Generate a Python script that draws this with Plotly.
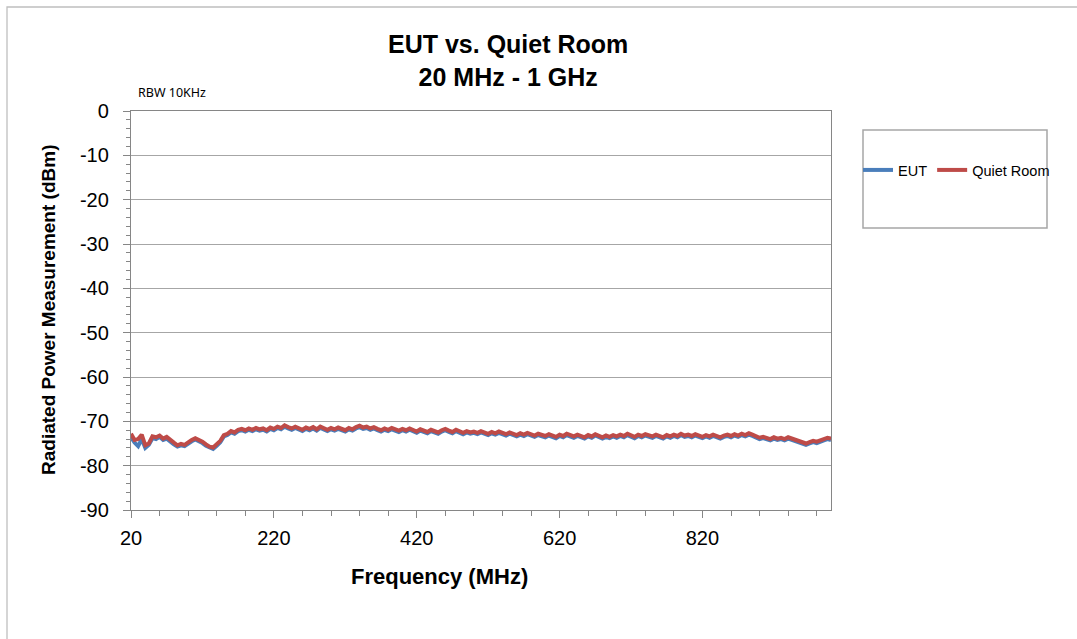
import plotly.graph_objects as go

# Frequency grid (MHz), 5 MHz steps from 20 MHz to 1 GHz
freq_mhz = list(range(20, 1001, 5))

# Quiet Room trace (dBm)
quiet_room = [
    -72.8, -74.2, -74.0, -73.0, -75.4, -75.0, -73.4,
    -73.6, -73.2, -73.9, -73.5, -74.3, -74.8, -75.4, -75.1, -75.3, -74.6,
    -74.2, -73.8, -74.1, -74.6, -75.2, -75.7, -75.9, -75.2, -74.4, -73.1,
    -72.8, -72.2, -72.5, -71.9, -71.7, -72.0, -71.6, -71.9, -71.5, -71.8,
    -71.6, -72.0, -71.4, -71.7, -71.2, -71.5, -70.9, -71.3, -71.6, -71.2,
    -71.6, -71.9, -71.4, -71.7, -71.3, -71.8, -71.2, -71.6, -71.9, -71.5,
    -71.8, -71.4, -71.7, -72.0, -71.5, -71.8, -71.3, -71.0, -71.4, -71.2,
    -71.6, -71.3, -71.7, -72.0, -71.6, -71.9, -71.5, -71.8, -72.1, -71.7,
    -72.0, -71.6, -71.9, -72.3, -71.8, -72.1, -72.4, -71.9, -72.2, -72.5,
    -72.0, -71.7, -72.1, -72.4, -71.9, -72.3, -72.6, -72.2, -72.5, -72.3,
    -72.6, -72.2, -72.5, -72.8, -72.4, -72.7, -72.3, -72.6, -72.9, -72.5,
    -72.8, -73.1, -72.7, -73.0, -72.6, -72.9, -73.2, -72.8, -73.1, -73.3,
    -72.9, -73.2, -73.5, -73.0, -73.3, -72.8, -73.2, -73.4, -73.0, -73.3,
    -73.6, -73.1, -73.4, -72.9, -73.3, -73.6, -73.2, -73.5, -73.1, -73.4,
    -73.0, -73.3, -72.8, -73.2, -73.5, -73.0, -73.3, -72.9, -73.2, -73.4,
    -73.0, -73.3, -73.6, -73.1, -73.4, -73.0, -73.3, -72.8, -73.2, -73.0,
    -73.3, -72.9, -73.2, -73.5, -73.1, -73.4, -73.0, -73.3, -73.6, -73.2,
    -73.0, -73.3, -72.9, -73.2, -72.8, -73.1, -72.7, -73.0, -73.4, -73.7,
    -73.5, -73.8, -74.0, -73.6, -73.9, -73.7, -74.0, -73.6, -73.9, -74.1,
    -74.3, -74.6, -75.0, -74.7, -74.4, -74.6, -74.2, -74.0, -73.7, -73.9,
]

# EUT trace (dBm)
eut = [
    -73.5, -74.8, -75.6, -74.0, -76.0, -75.3, -73.8,
    -74.0, -73.5, -74.2, -73.9, -74.6, -75.2, -75.7, -75.4, -75.6, -74.9,
    -74.5, -74.1, -74.4, -74.9, -75.5, -75.9, -76.2, -75.5, -74.7, -73.4,
    -73.1, -72.5, -72.8, -72.2, -72.0, -72.3, -71.9, -72.2, -71.8, -72.1,
    -71.9, -72.3, -71.7, -72.0, -71.5, -71.8, -71.2, -71.6, -71.9, -71.5,
    -71.9, -72.2, -71.7, -72.0, -71.6, -72.1, -71.5, -71.9, -72.2, -71.8,
    -72.1, -71.7, -72.0, -72.3, -71.8, -72.1, -71.6, -71.3, -71.7, -71.5,
    -71.9, -71.6, -72.0, -72.3, -71.9, -72.2, -71.8, -72.1, -72.4, -72.0,
    -72.3, -71.9, -72.2, -72.6, -72.1, -72.4, -72.7, -72.2, -72.5, -72.8,
    -72.3, -72.0, -72.4, -72.7, -72.2, -72.6, -72.9, -72.5, -72.8, -72.6,
    -72.9, -72.5, -72.8, -73.1, -72.7, -73.0, -72.6, -72.9, -73.2, -72.8,
    -73.1, -73.4, -73.0, -73.3, -72.9, -73.2, -73.5, -73.1, -73.4, -73.6,
    -73.2, -73.5, -73.8, -73.3, -73.6, -73.1, -73.5, -73.7, -73.3, -73.6,
    -73.9, -73.4, -73.7, -73.2, -73.6, -73.9, -73.5, -73.8, -73.4, -73.7,
    -73.3, -73.6, -73.1, -73.5, -73.8, -73.3, -73.6, -73.2, -73.5, -73.7,
    -73.3, -73.6, -73.9, -73.4, -73.7, -73.3, -73.6, -73.1, -73.5, -73.3,
    -73.6, -73.2, -73.5, -73.8, -73.4, -73.7, -73.3, -73.6, -73.9, -73.5,
    -73.3, -73.6, -73.2, -73.5, -73.1, -73.4, -73.0, -73.3, -73.7, -74.0,
    -73.8, -74.1, -74.3, -73.9, -74.2, -74.0, -74.3, -73.9, -74.2, -74.4,
    -74.6, -74.9, -75.3, -75.0, -74.7, -74.9, -74.5, -74.3, -74.0, -74.2,
]

series_names = ["EUT", "Quiet Room"]
series_colors = ["#4a7ebb", "#be4b48"]

# Axis tick values and labels (hyphen-minus as in the reference)
y_tick_values = [0, -10, -20, -30, -40, -50, -60, -70, -80, -90]
y_tick_labels = ["0", "-10", "-20", "-30", "-40", "-50", "-60", "-70", "-80", "-90"]
x_tick_values = [20, 220, 420, 620, 820]
x_tick_labels = ["20", "220", "420", "620", "820"]

W, H = 1077, 639
L, R, T, B = 131, 246, 111, 129
PW, PH = W - L - R, H - T - B


def px(x):
    return (x - L) / PW


def py(y):
    return (H - B - y) / PH


FONT = "Liberation Sans, Arial, sans-serif"
AXIS_GRAY = "#868686"
GRID_GRAY = "#a6a6a6"

fig = go.Figure()
for name, vals, col in zip(series_names, [eut, quiet_room], series_colors):
    fig.add_trace(go.Scatter(x=freq_mhz, y=vals, mode="lines", name=name,
                             line=dict(color=col, width=4)))

fig.update_layout(
    width=W, height=H,
    margin=dict(l=L, r=R, t=T, b=B, pad=0, autoexpand=False),
    paper_bgcolor="white", plot_bgcolor="white",
    font=dict(family=FONT, color="black"),
    showlegend=True,
    legend=dict(orientation="h", x=px(858), xanchor="left", y=py(170), yanchor="middle",
                font=dict(size=14.5, family=FONT, color="black"),
                bgcolor="rgba(0,0,0,0)", borderwidth=0, itemwidth=30,
                tracegroupgap=0),
    xaxis=dict(range=[20, 1000], tickmode="array", tickvals=x_tick_values, ticktext=x_tick_labels,
               showgrid=False, zeroline=False,
               showline=True, linecolor=AXIS_GRAY, linewidth=1.3, mirror=True,
               ticks="outside", ticklen=7, tickcolor=AXIS_GRAY, tickwidth=1.3,
               tickfont=dict(size=20, family=FONT), ticklabelstandoff=3,
               minor=dict(tick0=20, dtick=40, ticks="outside", ticklen=5,
                          tickcolor=AXIS_GRAY, tickwidth=1.3, showgrid=False)),
    yaxis=dict(range=[-90, 0], tickmode="array", tickvals=y_tick_values, ticktext=y_tick_labels,
               showgrid=True, gridcolor=GRID_GRAY, gridwidth=1.3, zeroline=False,
               showline=True, linecolor=AXIS_GRAY, linewidth=1.3, mirror=True,
               ticks="outside", ticklen=7, tickcolor=AXIS_GRAY, tickwidth=1.3,
               tickfont=dict(size=20, family=FONT), ticklabelstandoff=10,
               minor=dict(tick0=0, dtick=2, ticks="outside", ticklen=4,
                          tickcolor=AXIS_GRAY, tickwidth=1.3, showgrid=False)),
)

# Outer chart border and legend box
fig.add_shape(type="rect", xref="paper", yref="paper",
              x0=px(7), x1=px(W + 5), y0=py(H + 5), y1=py(7),
              line=dict(color="#bfbfbf", width=1.3), layer="below")
fig.add_shape(type="rect", xref="paper", yref="paper",
              x0=px(863), x1=px(1047), y0=py(228), y1=py(130),
              line=dict(color="#a6a6a6", width=1.5), layer="below")

fig.add_annotation(text="<b>EUT vs. Quiet Room</b><br><b>20 MHz - 1 GHz</b>",
                   xref="paper", yref="paper", x=px(508), y=py(61),
                   xanchor="center", yanchor="middle", showarrow=False,
                   font=dict(size=25, family=FONT, color="black"))
fig.add_annotation(text="RBW 10KHz", xref="paper", yref="paper",
                   x=px(136), y=py(93), xanchor="left", yanchor="middle",
                   showarrow=False, font=dict(size=12.5, family="Noto Sans, sans-serif", color="black"))
fig.add_annotation(text="<b>Frequency (MHz)</b>", xref="paper", yref="paper",
                   x=px(439), y=py(576), xanchor="center", yanchor="middle",
                   showarrow=False, font=dict(size=22, family=FONT, color="black"))
fig.add_annotation(text="<b>Radiated Power Measurement (dBm)</b>", xref="paper", yref="paper",
                   x=px(48), y=py(310), xanchor="center", yanchor="middle", textangle=-90,
                   showarrow=False, font=dict(size=19, family=FONT, color="black"))

fig.write_html("out.html", config={"displayModeBar": False},
               post_script="document.body.style.margin='0';")
